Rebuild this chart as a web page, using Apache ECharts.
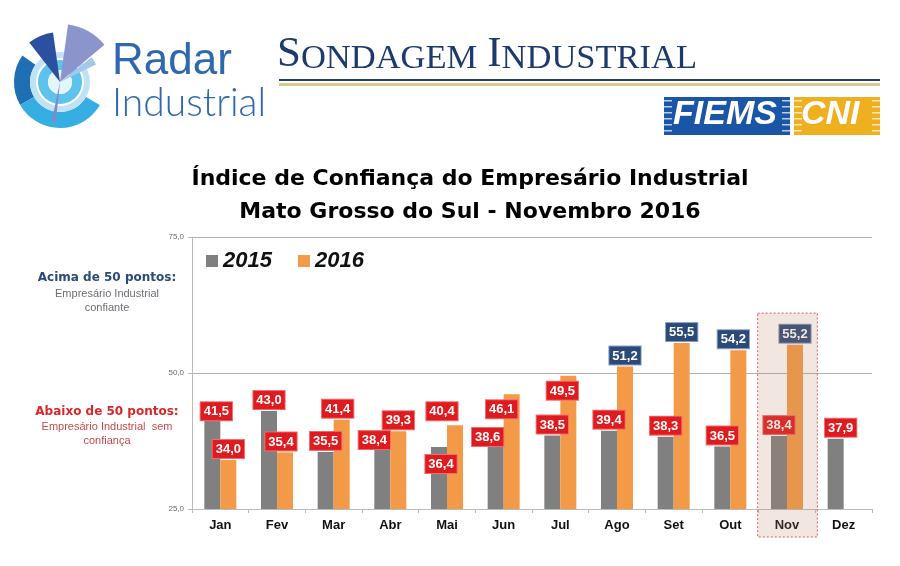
<!DOCTYPE html>
<html>
<head>
<meta charset="utf-8">
<script src="https://cdn.jsdelivr.net/npm/echarts@6/dist/echarts.min.js"></script>
<style>html,body{margin:0;padding:0;background:#fff;}#c{width:900px;height:566px;}</style>
</head>
<body>
<div id="c"></div>
<script>
var categories = ['Jan','Fev','Mar','Abr','Mai','Jun','Jul','Ago','Set','Out','Nov','Dez'];
var values2015 = [41.5, 43.0, 35.5, 38.4, 36.4, 38.6, 38.5, 39.4, 38.3, 36.5, 38.4, 37.9];
var values2016 = [34.0, 35.4, 41.4, 39.3, 40.4, 46.1, 49.5, 51.2, 55.5, 54.2, 55.2, null];
var yTicks = [25, 50, 75];
var highlightMonth = 'Nov';

// manual label nudges (as in the original slide), keyed by month
var labelNudge2015 = { Jan: [4, 3], Abr: [-8, 15], Mai: [2, 28], Jun: [-8, 13], Dez: [5, 0] };
var labelNudge2016 = { Fev: [-4, 0], Mar: [-4, 0], Mai: [-13, -3], Jun: [-10, 26], Jul: [-6, 26], Out: [-5, 0] };

var RED = '#e01b1f', BLUE = '#2b4a78';
function fmt(v){ return v.toFixed(1).replace('.', ','); }
function labelFor(v, nudge){
  return {
    show: true, position: 'top', distance: 2,
    offset: nudge || [0, 0],
    formatter: fmt(v),
    color: '#fff', fontWeight: 'bold', fontSize: 13, fontFamily: 'Liberation Sans, Arial',
    backgroundColor: v >= 50 ? BLUE : RED,
    borderColor: v >= 50 ? '#8fa3c4' : '#f07070', borderWidth: 1,
    padding: [3, 3, 2, 3]
  };
}
function mkData(arr, nudges){
  return arr.map(function(v, i){
    if (v === null) return null;
    return { value: v, label: labelFor(v, nudges[categories[i]]) };
  });
}

var chart = echarts.init(document.getElementById('c'), null, {renderer: 'canvas'});

function sector(r0, r, a0, a1, color){
  return { type: 'sector', shape: { cx: 60, cy: 82, r0: r0, r: r, startAngle: a0*Math.PI/180, endAngle: a1*Math.PI/180 }, style: { fill: color }, z: 10 };
}

var serifS = { fontFamily: 'Liberation Serif, serif', fill: '#1c3a6e', color: '#1c3a6e', verticalAlign: 'bottom' };
function rs(size){ return Object.assign({ fontSize: size }, serifS); }

var graphics = [
  // radar logo
  sector(30, 46, 150, 215, '#1f6fb4'),
  sector(30, 46, 30, 150, '#36aee3'),
  sector(24, 30, 0, 360, '#bfe3f5'),
  sector(12, 22, 0, 360, '#5cc3ea'),
  sector(0, 12, 0, 360, '#e6f4fb'),
  sector(0, 50, 232, 262, '#2c4fa0'),
  sector(0, 58, 278, 320, '#8c94cc'),
  sector(0, 40, 322, 334, '#a5c7ea'),
  sector(0, 40, 96, 102, '#7f8ac6'),
  { type: 'text', left: 112, top: 40, z: 10, style: { text: 'Radar', fill: '#2f67b0', font: '500 44px "Liberation Sans", Arial' } },
  { type: 'text', left: 112, top: 84, z: 10, style: { text: 'Industrial', fill: '#2f67b0', font: '300 39px Lato, "Liberation Sans", Arial' } },
  // Sondagem header
  { type: 'text', left: 277, top: 33, z: 10, style: {
      text: '{b|S}{s|ONDAGEM}{sp| }{b|I}{s|NDUSTRIAL}',
      rich: { b: rs(43), s: rs(34.5), sp: rs(40) } } },
  { type: 'rect', shape: { x: 279, y: 79, width: 601, height: 2 }, style: { fill: '#26406e' }, z: 10 },
  { type: 'rect', shape: { x: 279, y: 83, width: 601, height: 3 }, style: { fill: '#d8cb8c' }, z: 10 },
  // FIEMS / CNI
  { type: 'rect', shape: { x: 664, y: 97, width: 126, height: 38 }, style: { fill: '#1b56a6' }, z: 10 },
  { type: 'rect', shape: { x: 794, y: 97, width: 86, height: 38 }, style: { fill: '#efb01f' }, z: 10 },
  { type: 'text', left: 673, top: 98, z: 11, style: { text: 'FIEMS', fill: '#fff', font: 'italic bold 34px "Liberation Sans", Arial' } },
  { type: 'text', left: 801, top: 98, z: 11, style: { text: 'CNI', fill: '#fff', font: 'italic bold 34px "Liberation Sans", Arial' } },
  // titles
  { type: 'text', x: 470, y: 168, z: 10, style: { text: 'Índice de Confiança do Empresário Industrial', fill: '#000', font: 'bold 22px "DejaVu Sans", Verdana, sans-serif', align: 'center' } },
  { type: 'text', x: 470, y: 201, z: 10, style: { text: 'Mato Grosso do Sul - Novembro 2016', fill: '#000', font: 'bold 22px "DejaVu Sans", Verdana, sans-serif', align: 'center' } },
  // left annotations
  { type: 'text', x: 107, y: 272, z: 10, style: { text: 'Acima de 50 pontos:', fill: '#2b4a78', font: 'bold 12px "DejaVu Sans", Verdana, sans-serif', align: 'center' } },
  { type: 'text', x: 107, y: 287, z: 10, style: { text: 'Empresário Industrial\nconfiante', fill: '#6d6d78', font: '11px "Liberation Sans", Arial', align: 'center', lineHeight: 14 } },
  { type: 'text', x: 107, y: 406, z: 10, style: { text: 'Abaixo de 50 pontos:', fill: '#d9262a', font: 'bold 12px "DejaVu Sans", Verdana, sans-serif', align: 'center' } },
  { type: 'text', x: 107, y: 420, z: 10, style: { text: 'Empresário Industrial  sem\nconfiança', fill: '#c84a4e', font: '11px "Liberation Sans", Arial', align: 'center', lineHeight: 14 } }
];

for (var i = 0; i < 6; i++) {
  graphics.push({ type: 'rect', shape: { x: 664, y: 100 + i*6, width: 8, height: 1.5 }, style: { fill: 'rgba(255,255,255,0.7)' }, z: 12 });
  graphics.push({ type: 'rect', shape: { x: 872, y: 100 + i*6, width: 8, height: 1.5 }, style: { fill: 'rgba(255,255,255,0.7)' }, z: 12 });
  graphics.push({ type: 'rect', shape: { x: 782, y: 100 + i*6, width: 8, height: 1.5 }, style: { fill: 'rgba(255,255,255,0.7)' }, z: 12 });
  graphics.push({ type: 'rect', shape: { x: 794, y: 100 + i*6, width: 8, height: 1.5 }, style: { fill: 'rgba(255,255,255,0.7)' }, z: 12 });
}

var option = {
  animation: false,
  backgroundColor: '#fff',
  grid: { left: 192, right: 28, top: 237, bottom: 57, containLabel: false },
  legend: {
    left: 201, top: 245, itemWidth: 12, itemHeight: 12, itemGap: 26,
    icon: 'rect',
    textStyle: { fontSize: 22, fontStyle: 'italic', fontWeight: 'bold', color: '#111', fontFamily: 'Liberation Sans, Arial' },
    data: ['2015', '2016']
  },
  xAxis: {
    type: 'category', data: categories,
    axisLine: { lineStyle: { color: '#bbbbbb' } },
    axisTick: { show: true, lineStyle: { color: '#bbbbbb' }, length: 4 },
    axisLabel: { color: '#111', fontWeight: 'bold', fontSize: 13, fontFamily: 'Liberation Sans, Arial', margin: 10 }
  },
  yAxis: {
    type: 'value', min: yTicks[0], max: yTicks[yTicks.length-1], interval: 25,
    axisLine: { show: true, lineStyle: { color: '#bbbbbb' } },
    axisTick: { show: true, length: 4, lineStyle: { color: '#bbbbbb' } },
    axisLabel: { color: '#666', fontSize: 8, formatter: function(v){ return v.toFixed(1).replace('.', ','); } },
    splitLine: { show: true, lineStyle: { color: '#b0b0b0', width: 1 } }
  },
  series: [
    { name: '2015', type: 'bar', data: mkData(values2015, labelNudge2015), barWidth: 16, barGap: '0%', itemStyle: { color: '#808080' }, z: 2 },
    { name: '2016', type: 'bar', data: mkData(values2016, labelNudge2016), barWidth: 16, itemStyle: { color: '#f39a48' }, z: 2 }
  ],
  graphic: graphics
};
chart.setOption(option);

// Highlight band for the current month, positioned from the axis scale
var cx = chart.convertToPixel({ xAxisIndex: 0 }, highlightMonth);
var bandW = (900 - 192 - 28) / categories.length;
var yTop = chart.convertToPixel({ yAxisIndex: 0 }, 61);
var yBase = chart.convertToPixel({ yAxisIndex: 0 }, yTicks[0]);
graphics.push({
  type: 'rect', z: 100,
  shape: { x: cx - bandW/2 - 1, y: yTop, width: bandW + 3, height: yBase - yTop + 28 },
  style: { fill: 'rgba(190,130,100,0.2)', stroke: '#d06060', lineWidth: 1, lineDash: [2, 2] }
});
chart.setOption({ graphic: graphics });
</script>
</body>
</html>
